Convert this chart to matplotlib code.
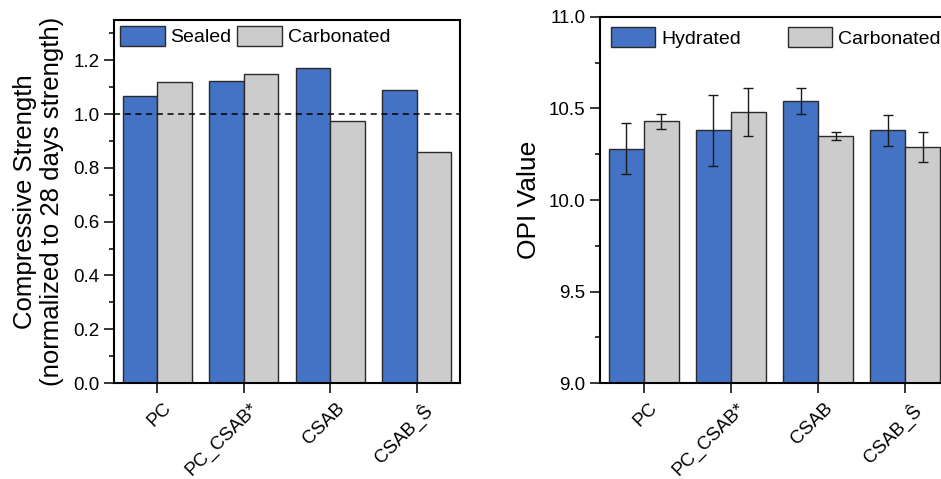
import numpy as np
import matplotlib
matplotlib.use("Agg")
import matplotlib.pyplot as plt
import matplotlib.transforms as mtrans
from matplotlib.ticker import MultipleLocator

plt.rcParams['font.family'] = ['Liberation Sans', 'DejaVu Sans']

# data
samples = ['PC', 'PC_CSAB*', 'CSAB', 'CSAB_\u015c']
sealed = [1.066, 1.122, 1.173, 1.091]
carb_strength = [1.118, 1.151, 0.973, 0.859]

hydrated_opi = [10.28, 10.38, 10.54, 10.38]
hydrated_err = [0.14, 0.195, 0.07, 0.085]
carb_opi = [10.43, 10.48, 10.35, 10.29]
carb_err = [0.04, 0.13, 0.02, 0.08]

blue = '#4472C4'
grey = '#CCCCCC'
edge = '#2a2a2a'

fig = plt.figure(figsize=(9.41, 4.79), dpi=100)
ax1 = fig.add_axes([0.1211, 0.2004, 0.3677, 0.7578])
ax2 = fig.add_axes([0.6376, 0.1998, 0.3709, 0.7653])

x = np.arange(len(samples))
w = 0.4


def style_axis(ax):
    for s in ax.spines.values():
        s.set_linewidth(1.5)
    ax.tick_params(axis='both', which='major', direction='out', length=7,
                   width=1.1, labelsize=13.5, pad=3.5)
    ax.tick_params(axis='y', which='minor', direction='out', length=3.6, width=1.1)
    ax.tick_params(top=False, right=False)
    ax.set_xticks(x)
    ax.set_xticklabels(samples, rotation=45, ha='right', va='top',
                       rotation_mode='anchor')
    # origin puts the rotated labels a bit to the right of the tick
    shift = mtrans.ScaledTranslation(0.055, -0.02, fig.dpi_scale_trans)
    for lab in ax.get_xticklabels():
        lab.set_transform(lab.get_transform() + shift)
    ax.set_xlim(-0.5, 3.5)


# left panel: compressive strength
ax1.bar(x - w / 2, sealed, w, color=blue, edgecolor=edge, linewidth=1.0,
        label='Sealed', zorder=2)
ax1.bar(x + w / 2, carb_strength, w, color=grey, edgecolor=edge, linewidth=1.0,
        label='Carbonated', zorder=2)
ax1.axhline(1.0, color='black', linestyle=(0, (4, 3)), linewidth=1.1, zorder=3)
ax1.set_ylim(0, 1.35)
ax1.yaxis.set_major_locator(MultipleLocator(0.2))
ax1.yaxis.set_minor_locator(MultipleLocator(0.1))
ax1.set_ylabel('Compressive Strength\n(normalized to 28 days strength)',
               fontsize=18.5, linespacing=1.15)
ax1.yaxis.set_label_coords(-0.145, 0.5)
style_axis(ax1)
ax1.legend(loc='upper left', ncol=2, frameon=False, fontsize=14,
           handlelength=2.3, handleheight=1.2, handletextpad=0.3,
           columnspacing=0.3, borderaxespad=0.25, borderpad=0.05)

# right panel: OPI
ax2.bar(x - w / 2, hydrated_opi, w, color=blue, edgecolor=edge, linewidth=1.0,
        label='Hydrated', zorder=2)
ax2.bar(x + w / 2, carb_opi, w, color=grey, edgecolor=edge, linewidth=1.0,
        label='Carbonated', zorder=2)
ax2.errorbar(x - w / 2, hydrated_opi, yerr=hydrated_err, fmt='none',
             ecolor='#1a1a1a', elinewidth=1.0, capsize=3.6, capthick=1.0, zorder=3)
ax2.errorbar(x + w / 2, carb_opi, yerr=carb_err, fmt='none',
             ecolor='#1a1a1a', elinewidth=1.0, capsize=3.6, capthick=1.0, zorder=3)
ax2.set_ylim(9.0, 11.0)
ax2.yaxis.set_major_locator(MultipleLocator(0.5))
ax2.yaxis.set_minor_locator(MultipleLocator(0.25))
ax2.set_ylabel('OPI Value', fontsize=19)
ax2.yaxis.set_label_coords(-0.17, 0.5)
style_axis(ax2)
ax2.legend(loc='upper left', ncol=2, frameon=False, fontsize=14,
           handlelength=2.3, handleheight=1.2, handletextpad=0.3,
           columnspacing=2.4, borderaxespad=0.45, borderpad=0.1)

fig.savefig('out.png', dpi=100)
